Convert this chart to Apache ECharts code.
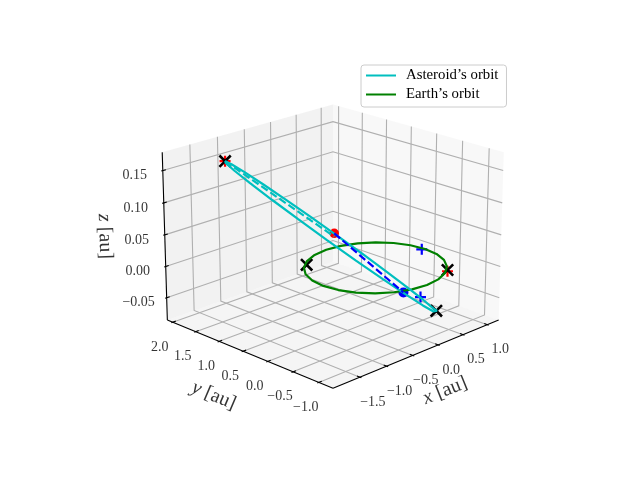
<!DOCTYPE html>
<html>
<head>
<meta charset="utf-8">
<style>html,body{margin:0;padding:0;background:#fff}#chart{width:640px;height:480px}</style>
<script src="https://cdn.jsdelivr.net/npm/echarts@6/dist/echarts.min.js"></script>
</head>
<body>
<div id="chart"></div>
<script>
// axis limits and ticks
var xLim = [-1.99, 1.24], yLim = [-1.27, 2.12], zLim = [-0.086, 0.178];
var xTicks = [-1.5, -1.0, -0.5, 0.0, 0.5, 1.0];
var yTicks = [-1.0, -0.5, 0.0, 0.5, 1.0, 1.5, 2.0];
var zTicks = [-0.05, 0.0, 0.05, 0.10, 0.15];
var xTickLabels = ['\u22121.5', '\u22121.0', '\u22120.5', '0.0', '0.5', '1.0'];
var yTickLabels = ['\u22121.0', '\u22120.5', '0.0', '0.5', '1.0', '1.5', '2.0'];
var zTickLabels = ['\u22120.05', '0.00', '0.05', '0.10', '0.15'];

// orbits
var asteroidX = [-1.404, -1.114, -0.775, -0.410, -0.044, 0.299, 0.594, 0.822, 0.967, 1.020, 0.976, 0.839, 0.618, 0.328, -0.011, -0.376, -0.742, -1.085, -1.380, -1.608, -1.753, -1.806, -1.762, -1.625, -1.404];
var asteroidY = [1.490, 1.695, 1.812, 1.835, 1.761, 1.595, 1.349, 1.039, 0.688, 0.317, -0.046, -0.378, -0.656, -0.861, -0.978, -1.001, -0.927, -0.761, -0.515, -0.205, 0.146, 0.517, 0.880, 1.212, 1.490];
var asteroidZ = [0.1648, 0.1480, 0.1243, 0.0952, 0.0628, 0.0293, -0.0032, -0.0323, -0.0560, -0.0728, -0.0815, -0.0816, -0.0700, -0.0560, -0.0323, -0.0032, 0.0292, 0.0627, 0.0952, 0.1245, 0.1483, 0.1651, 0.1737, 0.1736, 0.1648];
var earthX = [1.02, 0.986, 0.886, 0.727, 0.52, 0.279, 0.02, -0.239, -0.48, -0.687, -0.846, -0.946, -0.98, -0.946, -0.846, -0.687, -0.48, -0.239, 0.02, 0.279, 0.52, 0.727, 0.886, 0.986, 1.02];
var earthY = [-0.02, 0.239, 0.48, 0.687, 0.846, 0.946, 0.98, 0.946, 0.846, 0.687, 0.48, 0.239, -0.02, -0.279, -0.52, -0.727, -0.886, -0.986, -1.02, -0.986, -0.886, -0.727, -0.52, -0.279, -0.02];
var earthZ = [0, 0, 0, 0, 0, 0, 0, 0, 0, 0, 0, 0, 0, 0, 0, 0, 0, 0, 0, 0, 0, 0, 0, 0, 0];

// apsis line pieces
var cyanDashX = [-1.404, -0.375], cyanDashY = [1.490, 0.400], cyanDashZ = [0.1648, 0.048];
var blueDashX = [-0.375, 0.290], blueDashY = [0.400, -0.310], blueDashZ = [0.053, -0.0405];

// markers
var redPlusX = [-1.404, 0.630], redPlusY = [1.490, -0.830], redPlusZ = [0.1648, -0.002];
var bluePlusX = [1.005, 0.518], bluePlusY = [0.030, -0.425], bluePlusZ = [-0.0015, -0.0515];
var crossX = [-1.404, 0.610, -0.586, 0.630], crossY = [1.490, -0.650, 0.739, -0.830], crossZ = [0.1648, -0.0700, 0, 0];
var redDot = [-0.375, 0.400, 0.053];
var blueDot = [0.290, -0.310, -0.0405];

var legendNames = ['Asteroid\u2019s orbit', 'Earth\u2019s orbit'];

var CYAN = '#00bfbf', GREEN = '#008000', GRID = '#b0b0b0';
var SERIF = '"Liberation Serif", serif';
var PLUS = 'path://M40,0H60V40H100V60H60V100H40V60H0V40H40Z';
var CROSS = 'path://M42,0H58V42H100V58H58V100H42V58H0V42H42Z';

// same camera as a 3d axes with elev 20, azim -135, box 4:4:3
var boxX = 1.1905, boxY = 1.1905, boxZ = 0.8929;
var w = [-0.6645, -0.6645, 0.342], u = [0.7071, -0.7071, 0], v = [0.2418, 0.2418, 0.9397];
function project(x, y, z) {
    var qx = boxX * ((x - xLim[0]) / (xLim[1] - xLim[0]) - 0.5),
        qy = boxY * ((y - yLim[0]) / (yLim[1] - yLim[0]) - 0.5),
        qz = boxZ * ((z - zLim[0]) / (zLim[1] - zLim[0]) - 0.5);
    var d = 10 - (qx * w[0] + qy * w[1] + qz * w[2]);
    var px = (qx * u[0] + qy * u[1]) / d,
        py = (qx * v[0] + qy * v[1] + qz * v[2]) / d;
    return [333 + px * 1997.8, 237.4 - py * 1997.8];
}
function path3d(xs, ys, zs) {
    return xs.map(function (x, i) { return project(x, ys[i], zs[i]); });
}
function pane(color, corners) {
    return {
        type: 'custom', coordinateSystem: 'cartesian2d', silent: true, data: [0],
        renderItem: function (params, api) {
            return {
                type: 'polygon',
                shape: {points: corners.map(function (c) { return api.coord(project(c[0], c[1], c[2])); })},
                style: {fill: color}
            };
        }
    };
}
function segments(list, color, width) {
    return {
        type: 'lines', coordinateSystem: 'cartesian2d', polyline: true, silent: true,
        lineStyle: {color: color, width: width, opacity: 1},
        data: list.map(function (pts) {
            return {coords: pts.map(function (p) { return project(p[0], p[1], p[2]); })};
        })
    };
}
function orbit(name, pts, color, dashed) {
    return {
        name: name, type: 'line', data: pts, symbol: 'none', silent: true, clip: false,
        itemStyle: {color: color},
        lineStyle: {color: color, width: 2.2, type: dashed ? [7.7, 3.3] : 'solid'}
    };
}
function marks(pts, symbol, size, color) {
    return {
        type: 'scatter', data: pts, symbol: symbol, symbolSize: size, silent: true, clip: false,
        itemStyle: {color: color, opacity: 1}
    };
}
function texts(pts, labels, offset, extra) {
    var label = {show: true, position: 'inside', color: '#000', fontFamily: SERIF, fontSize: 14,
        align: 'center', verticalAlign: 'middle', offset: offset,
        formatter: function (p) { return labels[p.dataIndex]; }};
    for (var k in extra) label[k] = extra[k];
    return {type: 'scatter', data: pts, symbol: 'circle', symbolSize: 0, silent: true, clip: false, label: label};
}
// the label offset turns with the text, so turn it back
function axisTitle(pt, text, ox, oy, rot) {
    var a = -rot * Math.PI / 180, c = Math.cos(a), s = Math.sin(a);
    return texts([pt], [text], [ox * c + oy * s, -ox * s + oy * c], {
        rich: {i: {fontStyle: 'italic', fontFamily: SERIF, fontSize: 20}},
        fontSize: 20, rotate: rot
    });
}

var x0 = xLim[0], x1 = xLim[1], y0 = yLim[0], y1 = yLim[1], z0 = zLim[0], z1 = zLim[1];
var gridLines = [], tickLines = [];
var dx = (x1 - x0) / 12, dy = (y1 - y0) / 12;
xTicks.forEach(function (t) {
    gridLines.push([[t, y0, z0], [t, y1, z0], [t, y1, z1]]);
    tickLines.push([[t, y0 - 0.1 * dy, z0], [t, y0 + 0.2 * dy, z0]]);
});
yTicks.forEach(function (t) {
    gridLines.push([[x0, t, z0], [x1, t, z0], [x1, t, z1]]);
    tickLines.push([[x0 - 0.1 * dx, t, z0], [x0 + 0.2 * dx, t, z0]]);
});
zTicks.forEach(function (t) {
    gridLines.push([[x0, y1, t], [x1, y1, t], [x1, y0, t]]);
    tickLines.push([[x0 - 0.1 * dx, y1, t], [x0 + 0.2 * dx, y1, t]]);
});
var axisLines = [
    [[x0, y0, z0], [x1, y0, z0]],
    [[x0, y0, z0], [x0, y1, z0]],
    [[x0, y1, z0], [x0, y1, z1]]
];

var chart = echarts.init(document.getElementById('chart'), null, {renderer: 'canvas'});
chart.setOption({
    animation: false,
    grid: {left: 0, right: 0, top: 0, bottom: 0},
    xAxis: {type: 'value', min: 0, max: 640, show: false},
    yAxis: {type: 'value', min: 0, max: 480, inverse: true, show: false},
    legend: {
        data: legendNames, orient: 'vertical', left: 361, top: 65, padding: [3, 8, 5, 5],
        icon: 'rect', itemWidth: 30, itemHeight: 2, itemGap: 4,
        backgroundColor: 'rgba(255,255,255,0.8)', borderColor: '#cccccc', borderWidth: 1, borderRadius: 3,
        selectedMode: false,
        textStyle: {fontFamily: SERIF, fontSize: 14.8, color: '#000', padding: [0, 0, 0, 5]}
    },
    series: [
        pane('rgba(229,229,229,0.5)', [[x0, y1, z0], [x1, y1, z0], [x1, y1, z1], [x0, y1, z1]]),
        pane('rgba(242,242,242,0.5)', [[x1, y0, z0], [x1, y1, z0], [x1, y1, z1], [x1, y0, z1]]),
        pane('rgba(236,236,236,0.5)', [[x0, y0, z0], [x1, y0, z0], [x1, y1, z0], [x0, y1, z0]]),
        segments(gridLines, GRID, 1.1),
        segments(axisLines, '#000', 1.1),
        segments(tickLines, '#000', 1.1),
        orbit(legendNames[1], path3d(earthX, earthY, earthZ), GREEN),
        orbit(legendNames[0], path3d(asteroidX, asteroidY, asteroidZ), CYAN),
        orbit('cyan dash', path3d(cyanDashX, cyanDashY, cyanDashZ), CYAN, true),
        orbit('blue dash', path3d(blueDashX, blueDashY, blueDashZ), '#0000ff', true),
        marks(path3d(redPlusX, redPlusY, redPlusZ), PLUS, 11, '#ff0000'),
        marks(path3d(bluePlusX, bluePlusY, bluePlusZ), PLUS, 11, '#0000ff'),
        marks([project(redDot[0], redDot[1], redDot[2])], 'circle', 9.5, '#ff0000'),
        marks([project(blueDot[0], blueDot[1], blueDot[2])], 'circle', 10, '#0000ff'),
        {
            type: 'scatter', data: path3d(crossX, crossY, crossZ), symbol: CROSS, symbolSize: 16, symbolRotate: 45,
            silent: true, clip: false, itemStyle: {color: '#000', opacity: 1}
        },
        texts(xTicks.map(function (t) { return project(t, y0, z0); }), xTickLabels, [13, 25]),
        texts(yTicks.map(function (t) { return project(x0, t, z0); }), yTickLabels, [-13, 25]),
        texts(zTicks.map(function (t) { return project(x0, y1, t); }), zTickLabels, [-28, 5]),
        axisTitle(project((x0 + x1) / 2, y0, z0), '{i|x} [au]', 26, 38, 22),
        axisTitle(project(x0, (y0 + y1) / 2, z0), '{i|y} [au]', -33, 43, -23),
        axisTitle(project(x0, y1, (z0 + z1) / 2), '{i|z} [au]', -60, -1, -88)
    ]
});
</script>
</body>
</html>
